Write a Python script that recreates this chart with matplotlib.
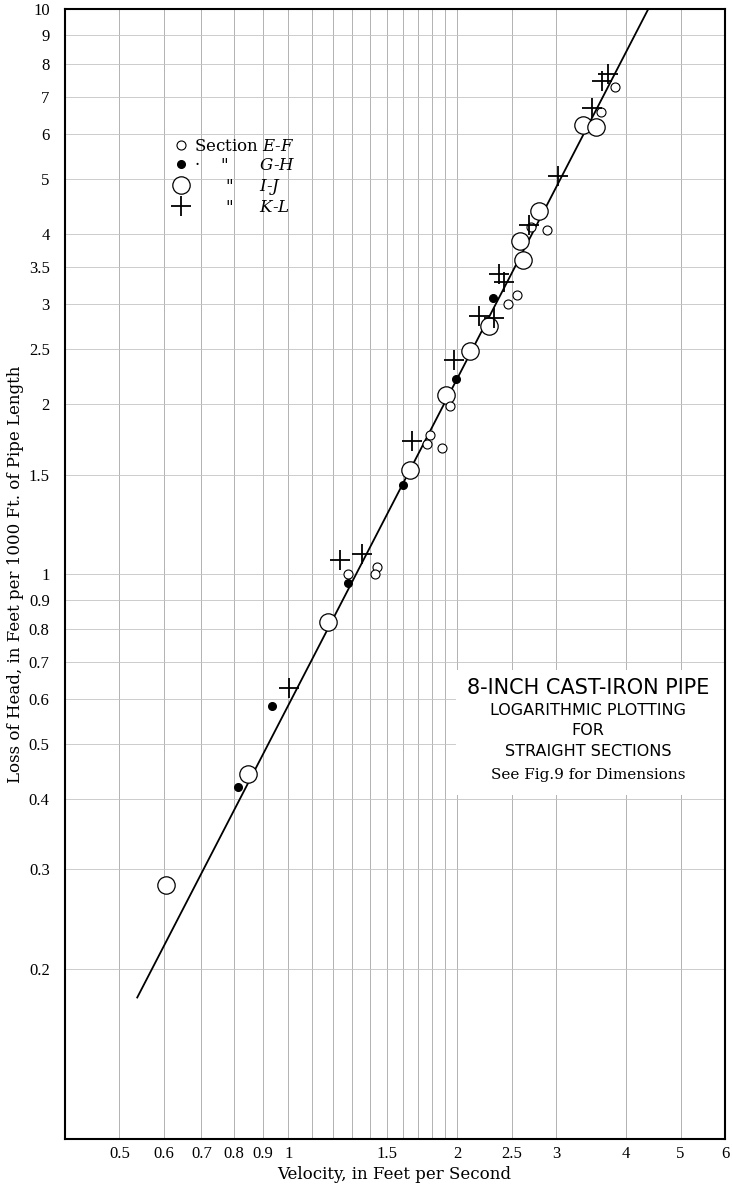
import matplotlib
matplotlib.use('Agg')
import matplotlib.pyplot as plt
from matplotlib.ticker import FixedLocator, NullFormatter, NullLocator
from matplotlib.patches import Rectangle

plt.rcParams['mathtext.fontset'] = 'dejavuserif'

# Section E-F (small open circles)
ef_v = [3.82, 3.60, 2.89, 2.71, 2.56, 2.46, 1.94, 1.79, 1.77, 1.88, 1.28, 1.44, 1.43]
ef_h = [7.28, 6.57, 4.06, 4.11, 3.12, 3.01, 1.98, 1.76, 1.70, 1.67, 1.00, 1.03, 1.00]
# Section G-H (filled dots)
gh_v = [2.32, 1.99, 1.60, 1.28, 0.937, 0.812]
gh_h = [3.08, 2.21, 1.44, 0.964, 0.584, 0.420]
# Section I-J (large open circles)
ij_v = [3.35, 3.53, 2.80, 2.59, 2.62, 2.28, 2.11, 1.91, 1.645, 1.177, 0.849, 0.605]
ij_h = [6.23, 6.18, 4.39, 3.89, 3.60, 2.75, 2.48, 2.07, 1.53, 0.822, 0.443, 0.282]
# Section K-L (crosses)
kl_v = [3.72, 3.62, 3.47, 3.02, 2.69, 2.37, 2.42, 2.19, 2.33, 1.97, 1.66, 1.236, 1.353, 1.004]
kl_h = [7.67, 7.46, 6.68, 5.06, 4.15, 3.40, 3.29, 2.86, 2.84, 2.39, 1.72, 1.059, 1.085, 0.628]

# fitted line end points
line_v = [0.538, 4.38]
line_h = [0.178, 10.0]

x_major = [0.5, 0.6, 0.7, 0.8, 0.9, 1, 1.5, 2, 2.5, 3, 4, 5, 6]
x_labels = ['0.5', '0.6', '0.7', '0.8', '0.9', '1', '1.5', '2', '2.5', '3', '4', '5', '6']
x_minor = [1.1, 1.2, 1.3, 1.4, 1.6, 1.7, 1.8, 1.9]
y_major = [0.2, 0.3, 0.4, 0.5, 0.6, 0.7, 0.8, 0.9, 1, 1.5, 2, 2.5, 3, 3.5, 4, 5, 6, 7, 8, 9, 10]
y_labels = ['0.2', '0.3', '0.4', '0.5', '0.6', '0.7', '0.8', '0.9', '1', '1.5', '2', '2.5',
            '3', '3.5', '4', '5', '6', '7', '8', '9', '10']

fig = plt.figure(figsize=(7.32, 11.86), dpi=100)
ax = fig.add_axes([65/732, 47/1186, 660/732, 1130/1186])
ax.set_xscale('log')
ax.set_yscale('log')
ax.set_xlim(0.4, 6)
ax.set_ylim(0.1, 10)

ax.xaxis.set_major_locator(FixedLocator(x_major))
ax.xaxis.set_minor_locator(FixedLocator(x_minor))
ax.xaxis.set_minor_formatter(NullFormatter())
ax.set_xticklabels(x_labels)
ax.yaxis.set_major_locator(FixedLocator(y_major))
ax.yaxis.set_minor_locator(NullLocator())
ax.set_yticklabels(y_labels)
ax.tick_params(which='both', length=0, labelsize=12)
ax.tick_params(axis='y', pad=11)
ax.tick_params(axis='x', pad=5)
for lab in ax.get_xticklabels() + ax.get_yticklabels():
    lab.set_family('Liberation Serif')

ax.set_axisbelow(True)
ax.grid(True, which='both', axis='x', color='#a6a6a6', lw=0.6)
ax.grid(True, which='major', axis='y', color='#c4c4c4', lw=0.6)
for s in ax.spines.values():
    s.set_linewidth(1.5)
    s.set_color('black')

# white panel behind the caption
ax.add_patch(Rectangle((0.592, 0.304), 0.408, 0.111, transform=ax.transAxes,
                       facecolor='white', edgecolor='none', zorder=1.5))

ax.plot(line_v, line_h, color='black', lw=1.3, zorder=2)

h_ef, = ax.plot(ef_v, ef_h, 'o', ls='none', ms=6.5, mfc='white', mec='black', mew=0.8, zorder=4)
h_gh, = ax.plot(gh_v, gh_h, 'o', ls='none', ms=5.5, mfc='black', mec='black', zorder=4)
h_ij, = ax.plot(ij_v, ij_h, 'o', ls='none', ms=12.5, mfc='white', mec='black', mew=0.9, zorder=3)
h_kl, = ax.plot(kl_v, kl_h, '+', ls='none', ms=14.5, color='black', mew=1.3, zorder=5)

labels = ['Section $E$-$F$',
          '\u00b7    "      $G$-$H$',
          '      "     $I$-$J$',
          '      "     $K$-$L$']
leg = ax.legend([h_ef, h_gh, h_ij, h_kl], labels, loc='upper left',
                bbox_to_anchor=(0.163, 0.886), frameon=False, borderpad=0,
                borderaxespad=0, handlelength=1.0, handletextpad=0.3,
                labelspacing=0.15, numpoints=1, prop={'family': 'DejaVu Serif', 'size': 12})

ax.set_xlabel('Velocity, in Feet per Second', family='DejaVu Serif', fontsize=12)
ax.set_ylabel('Loss of Head, in Feet per 1000 Ft. of Pipe Length', family='DejaVu Serif', fontsize=12)
ax.xaxis.set_label_coords(0.4985, -0.024)
ax.yaxis.set_label_coords(-0.062, 0.5)

cx = 0.7924
ax.text(cx, 0.3991, '8-INCH CAST-IRON PIPE', transform=ax.transAxes, ha='center', va='center',
        family='DejaVu Sans', fontsize=15, zorder=6)
ax.text(cx, 0.3796, 'LOGARITHMIC PLOTTING', transform=ax.transAxes, ha='center', va='center',
        family='DejaVu Sans', fontsize=11.5, zorder=6)
ax.text(cx, 0.3619, 'FOR', transform=ax.transAxes, ha='center', va='center',
        family='DejaVu Sans', fontsize=11.5, zorder=6)
ax.text(cx, 0.3425, 'STRAIGHT SECTIONS', transform=ax.transAxes, ha='center', va='center',
        family='DejaVu Sans', fontsize=11.5, zorder=6)
ax.text(cx, 0.3221, 'See Fig.9 for Dimensions', transform=ax.transAxes, ha='center', va='center',
        family='DejaVu Serif', fontsize=11, zorder=6)

plt.savefig('out.png', dpi=100)
